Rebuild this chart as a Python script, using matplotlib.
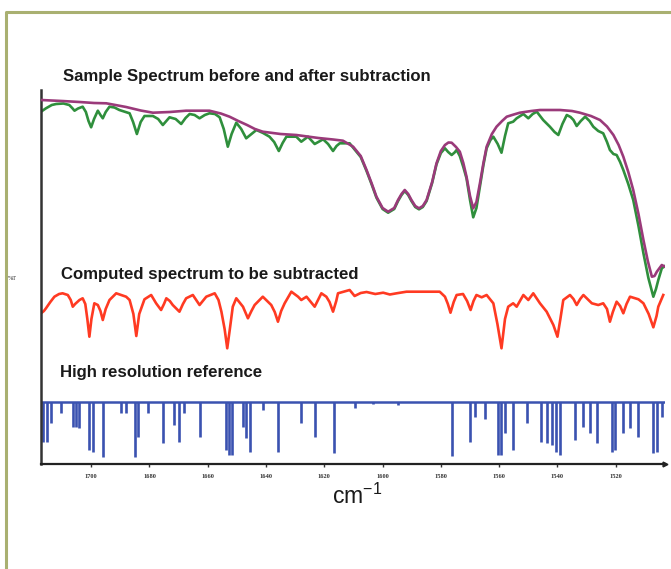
import matplotlib
matplotlib.use("Agg")
import matplotlib.pyplot as plt
from matplotlib.lines import Line2D

# ---------------- data (wavenumber cm-1, offset %T in arbitrary units) ----------------
after_wn = [1717.2, 1710.0, 1704.0, 1699.0, 1694.8, 1688.0, 1683.0, 1678.8, 1673.0, 1667.4,
            1659.4, 1655.5, 1652.5, 1649.5, 1646.5, 1643.8, 1641.1, 1635.0, 1629.6, 1622.0,
            1617.0, 1613.6, 1610.1, 1607.5, 1605.5, 1603.8, 1602.1, 1600.0, 1598.1, 1596.0,
            1594.7, 1593.5, 1592.4, 1591.2, 1590.1, 1588.8, 1587.5, 1586.2, 1584.9, 1583.0,
            1581.5, 1580.0, 1578.6, 1577.4, 1576.3, 1574.8, 1573.5, 1572.3, 1571.2, 1570.0,
            1568.9, 1567.8, 1566.6, 1565.4, 1564.3, 1562.5, 1560.9, 1559.0, 1557.4, 1555.0,
            1552.9, 1549.0, 1546.0, 1539.1, 1535.0, 1532.3, 1528.5, 1525.4, 1523.0, 1520.8,
            1519.0, 1517.4, 1515.7, 1514.0, 1512.2, 1510.5, 1509.0, 1507.6, 1506.7, 1505.9,
            1504.2, 1503.1]
after_T = [364.0, 363.0, 362.0, 361.0, 360.7, 357.0, 353.5, 351.3, 352.0, 353.3,
           353.3, 350.5, 347.3, 343.0, 339.0, 335.0, 332.3, 330.0, 329.0, 326.0,
           324.5, 323.3, 317.3, 308.0, 294.0, 281.0, 267.3, 256.0, 252.3, 256.0,
           264.0, 270.0, 274.0, 270.0, 264.0, 258.0, 255.7, 258.0, 264.0, 282.0,
           300.7, 313.0, 319.0, 321.5, 321.3, 317.0, 312.3, 301.0, 287.3, 268.0,
           255.7, 262.0, 280.7, 301.0, 317.3, 330.0, 337.3, 343.0, 347.3, 349.5,
           351.3, 353.0, 354.0, 354.0, 353.0, 351.3, 348.0, 344.0, 337.5, 329.0,
           319.0, 307.3, 292.0, 274.0, 250.0, 224.0, 203.0, 187.3, 188.0, 192.3,
           199.0, 197.3]

before_wn = [1717.2, 1715.5, 1713.5, 1712.0, 1709.5, 1707.5, 1706.5, 1705.7, 1704.5, 1702.9,
             1701.8, 1700.9, 1700.0, 1699.0, 1697.7, 1696.8, 1696.0, 1695.0, 1693.7, 1692.0,
             1690.3, 1686.8, 1685.6, 1684.3, 1683.0, 1681.7, 1678.8, 1677.0, 1675.4, 1674.2,
             1673.1, 1671.0, 1669.1, 1667.6, 1666.2, 1664.5, 1662.8, 1661.0, 1659.4, 1657.5,
             1655.9, 1654.5, 1653.1, 1651.8, 1650.2, 1648.5, 1646.8, 1645.0, 1643.3, 1641.0,
             1638.8, 1637.2, 1635.6, 1634.3, 1633.0, 1629.6, 1627.9, 1625.6, 1623.3, 1620.4,
             1618.7, 1617.0, 1615.8, 1614.7, 1611.3, 1610.1, 1607.5, 1605.5, 1603.8, 1602.1,
             1600.0, 1598.1, 1596.0, 1594.7, 1593.5, 1592.4, 1591.2, 1590.1, 1588.8, 1587.5,
             1586.2, 1584.9, 1583.0, 1581.5, 1580.0, 1578.6, 1577.5, 1576.3, 1575.3, 1574.6,
             1573.5, 1572.3, 1571.2, 1570.0, 1568.9, 1567.8, 1566.6, 1565.4, 1564.3, 1563.0,
             1562.0, 1560.5, 1559.2, 1558.0, 1556.9, 1555.2, 1554.0, 1551.7, 1550.0, 1548.5,
             1547.1, 1544.9, 1542.6, 1541.0, 1539.7, 1538.3, 1536.8, 1535.5, 1534.5, 1533.4,
             1532.0, 1530.5, 1529.0, 1527.7, 1526.0, 1524.3, 1523.0, 1522.0, 1520.8, 1519.7,
             1518.5, 1517.4, 1515.7, 1514.0, 1512.2, 1510.5, 1508.8, 1507.1, 1506.2, 1505.4,
             1504.2, 1503.1]
before_T = [352.3, 355.7, 359.0, 360.0, 360.5, 359.0, 356.0, 353.3, 355.5, 357.3,
            352.0, 343.0, 336.7, 345.0, 353.3, 349.0, 345.7, 352.0, 357.3, 356.5,
            354.0, 350.7, 342.0, 330.0, 342.0, 348.0, 348.0, 345.0, 339.0, 343.0,
            346.7, 345.0, 340.0, 346.0, 350.0, 349.0, 345.7, 349.0, 350.7, 350.0,
            346.7, 335.0, 317.3, 330.0, 341.3, 335.0, 325.7, 330.0, 334.0, 331.0,
            327.3, 322.0, 313.0, 321.0, 327.3, 327.3, 322.3, 327.3, 320.0, 324.7,
            320.0, 313.0, 318.0, 320.7, 320.7, 316.3, 307.0, 293.0, 280.0, 266.3,
            255.0, 251.3, 255.0, 263.0, 269.0, 273.0, 269.0, 263.0, 257.0, 254.7,
            257.0, 263.0, 281.0, 299.7, 311.0, 315.7, 312.0, 309.0, 311.5, 314.0,
            308.0, 297.0, 285.7, 264.0, 246.7, 256.0, 277.3, 299.0, 315.7, 324.0,
            327.3, 320.0, 311.3, 328.0, 340.7, 342.3, 345.7, 350.0, 345.7, 350.0,
            352.3, 344.0, 337.3, 332.0, 329.0, 340.0, 349.0, 347.0, 344.0, 338.0,
            343.0, 347.3, 343.0, 337.3, 333.0, 330.7, 322.0, 314.0, 310.0, 309.0,
            302.0, 294.0, 280.0, 264.0, 238.0, 210.7, 186.0, 167.3, 175.0, 184.0,
            195.7, 198.0]

computed_wn = [1717.2, 1716.2, 1715.5, 1714.0, 1712.6, 1711.0, 1709.8, 1708.0, 1707.0, 1706.3,
               1705.5, 1704.0, 1702.9, 1702.0, 1701.3, 1700.6, 1699.9, 1698.9, 1697.7, 1696.8,
               1696.0, 1695.0, 1693.7, 1691.4, 1688.0, 1686.8, 1685.5, 1684.5, 1683.5, 1681.7,
               1679.4, 1677.7, 1676.0, 1675.0, 1674.2, 1673.0, 1672.0, 1669.7, 1668.5, 1667.4,
               1665.1, 1662.8, 1660.5, 1657.6, 1656.3, 1655.3, 1654.2, 1653.3, 1652.4, 1651.4,
               1650.2, 1647.9, 1646.2, 1645.0, 1643.9, 1641.1, 1638.2, 1637.0, 1635.9, 1634.8,
               1633.6, 1631.3, 1629.0, 1627.9, 1626.1, 1623.3, 1621.0, 1619.3, 1618.2, 1617.0,
               1615.9, 1615.3, 1611.3, 1609.6, 1607.5, 1605.5, 1602.5, 1599.8, 1597.5, 1595.2,
               1591.8, 1580.4, 1578.6, 1577.6, 1576.7, 1575.6, 1574.6, 1572.4, 1571.0, 1569.8,
               1568.8, 1567.8, 1566.0, 1564.3, 1562.0, 1560.6, 1559.2, 1558.0, 1556.9, 1555.2,
               1554.0, 1551.7, 1550.0, 1548.3, 1546.0, 1543.7, 1541.4, 1540.0, 1539.0, 1538.0,
               1535.7, 1534.5, 1533.4, 1532.2, 1531.1, 1528.2, 1526.0, 1524.3, 1523.0, 1522.0,
               1521.0, 1519.7, 1518.5, 1517.4, 1516.3, 1515.1, 1512.2, 1510.5, 1508.7, 1507.1,
               1506.0, 1505.4, 1503.7]
computed_T = [150.7, 153.0, 155.7, 162.0, 167.3, 170.0, 170.7, 169.0, 164.0, 157.3,
              160.0, 164.0, 165.7, 160.0, 145.0, 127.3, 145.0, 160.7, 159.0, 153.0,
              144.0, 155.0, 164.0, 170.7, 167.3, 164.0, 150.0, 128.0, 150.0, 164.7,
              169.0, 160.7, 154.0, 160.0, 165.7, 163.0, 159.0, 152.3, 160.0, 165.7,
              169.0, 159.0, 167.3, 170.7, 164.0, 152.3, 135.0, 115.7, 135.0, 157.3,
              165.7, 157.3, 145.7, 153.0, 159.0, 167.3, 159.0, 152.0, 142.3, 153.0,
              160.7, 172.3, 167.3, 164.0, 167.3, 157.3, 170.7, 167.3, 162.0, 152.3,
              163.0, 170.7, 174.0, 168.0, 171.0, 172.0, 170.0, 171.3, 169.5, 170.7,
              172.3, 172.3, 167.3, 160.0, 151.3, 162.0, 169.0, 170.0, 163.0, 154.0,
              163.0, 169.0, 166.7, 169.0, 160.7, 140.0, 115.7, 145.0, 157.3, 160.7,
              157.3, 169.0, 164.0, 170.7, 160.7, 152.3, 139.0, 127.3, 145.0, 164.0,
              169.0, 165.0, 159.0, 165.0, 169.0, 160.7, 159.0, 160.7, 155.0, 142.3,
              152.0, 162.3, 158.0, 150.7, 160.0, 167.3, 164.7, 160.7, 150.0, 136.7,
              148.0, 157.3, 169.0]

hires_baseline = 62.3
hires_line_wn = [1716.6, 1715.3, 1713.7, 1710.3, 1706.3, 1705.2, 1704.0, 1700.6, 1699.5, 1696.0,
                 1689.7, 1688.0, 1684.8, 1684.0, 1680.6, 1675.4, 1671.4, 1669.7, 1668.0, 1662.8,
                 1653.6, 1652.7, 1651.8, 1647.9, 1646.8, 1645.6, 1641.1, 1635.9, 1627.9, 1623.3,
                 1616.8, 1609.6, 1603.3, 1594.7, 1576.1, 1570.0, 1568.3, 1564.9, 1560.3, 1559.2,
                 1558.0, 1555.2, 1550.6, 1545.5, 1543.7, 1542.0, 1540.5, 1539.1, 1534.0, 1531.1,
                 1528.8, 1526.5, 1521.4, 1520.2, 1517.4, 1515.1, 1512.2, 1507.1, 1505.9, 1504.2]
hires_line_T = [22.3, 22.3, 41.0, 51.0, 37.3, 37.3, 35.7, 14.0, 12.3, 6.7,
                51.0, 51.0, 6.7, 27.3, 51.0, 20.7, 39.0, 22.3, 51.0, 27.3,
                14.0, 9.0, 9.0, 37.3, 25.7, 12.3, 54.0, 12.3, 40.7, 27.3,
                10.7, 56.0, 60.0, 59.0, 8.0, 22.3, 47.3, 44.7, 9.0, 9.0,
                30.7, 14.0, 40.7, 22.3, 20.7, 19.0, 12.3, 9.0, 24.0, 37.3,
                30.7, 20.7, 12.3, 14.0, 30.7, 35.7, 27.3, 10.7, 12.3, 47.3]

tick_values = [1700, 1680, 1660, 1640, 1620, 1600, 1580, 1560, 1540, 1520]
x_range = (1717.2, 1503.1)
y_range = (0, 374)

title_top = "Sample Spectrum before and after subtraction"
title_mid = "Computed spectrum to be subtracted"
title_bot = "High resolution reference"

# ---------------- figure ----------------
W, H = 671, 569
fig = plt.figure(figsize=(W / 100, H / 100), dpi=100)
fig.patch.set_facecolor("white")

def fx(px):
    return px / W

def fy(py):
    return 1 - py / H

ax = fig.add_axes([fx(41), fy(464), fx(665) - fx(41), fy(90) - fy(464)])
ax.set_xlim(*x_range)
ax.set_ylim(*y_range)

green = "#2f8f3c"
purple = "#9a3a7a"
red = "#ff3a22"
blue = "#3a52b0"

ax.plot(before_wn, before_T, color=green, lw=1.9, solid_joinstyle="round", zorder=2)
ax.plot(after_wn, after_T, color=purple, lw=1.9, solid_joinstyle="round", zorder=3)
ax.plot(computed_wn, computed_T, color=red, lw=1.9, solid_joinstyle="round", zorder=2)
ax.axhline(hires_baseline, color=blue, lw=1.8, zorder=2)
ax.vlines(hires_line_wn, hires_line_T, hires_baseline, color=blue, lw=1.9, zorder=2)

for s in ["top", "right"]:
    ax.spines[s].set_visible(False)
ax.spines["left"].set_color("#333333")
ax.spines["left"].set_linewidth(1.8)
ax.spines["bottom"].set_color("#222222")
ax.spines["bottom"].set_linewidth(1.6)
ax.set_yticks([])
ax.set_xticks(tick_values)
ax.set_xticklabels([str(t) for t in tick_values], fontfamily="Liberation Serif",
                   fontsize=4.6, fontweight="bold", color="#333333")
ax.tick_params(axis="x", direction="out", length=2.5, width=1, pad=5, color="#333333")

# arrow tip at right end of axis
ax.plot([1], [0], marker=">", markersize=3.5, color="#222222", transform=ax.transAxes,
        clip_on=False, zorder=5)

# texts
tfont = dict(family="Liberation Sans", weight="bold", color="#1a1a1a")
fig.text(fx(63), fy(76), title_top, fontsize=12.1, va="center", ha="left", **tfont)
fig.text(fx(61), fy(275), title_mid, fontsize=12.1, va="center", ha="left", **tfont)
fig.text(fx(60), fy(372), title_bot, fontsize=12.1, va="center", ha="left", **tfont)
fig.text(fx(8), fy(279), "%T", fontsize=4.5, family="Liberation Serif", va="center",
         ha="left", color="#333333")
fig.text(fx(357), fy(496), "cm$^{\\mathregular{-1}}$", fontsize=16.5, family="Liberation Sans",
         va="center", ha="center", color="#1a1a1a")

# olive frame (left and top edges visible)
frame_color = "#a9b071"
fig.add_artist(Line2D([fx(6), fx(6), fx(W + 5)], [fy(H + 5), fy(12), fy(12)],
                      transform=fig.transFigure, color=frame_color, lw=2.2))

fig.savefig("out.png", dpi=100)
